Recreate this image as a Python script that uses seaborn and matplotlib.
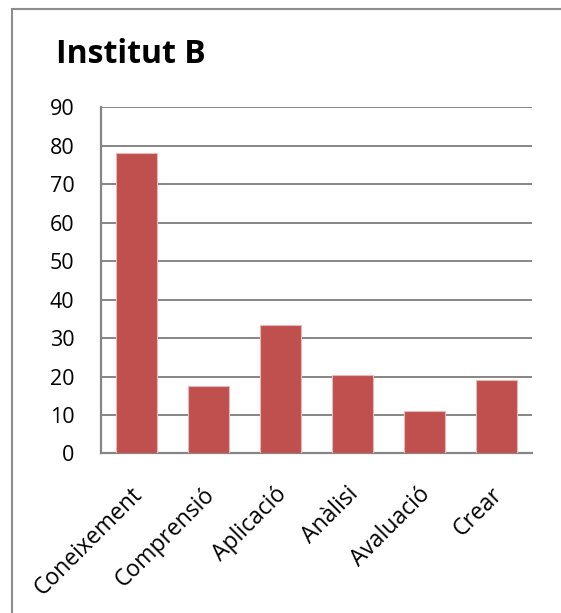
import matplotlib
matplotlib.use("Agg")
import matplotlib.pyplot as plt
import matplotlib.transforms as mtransforms
import seaborn as sns
import pandas as pd
from matplotlib.patches import Rectangle

# data
categories = ['Coneixement', 'Comprensió', 'Aplicació', 'Anàlisi', 'Avaluació', 'Crear']
values = [78, 17.5, 33.3, 20.5, 11, 19]
y_ticks = list(range(0, 100, 10))

sns.set_style('white')
plt.rcParams['font.family'] = ['Open Sans', 'DejaVu Sans']
plt.rcParams['text.color'] = 'black'
plt.rcParams['xtick.color'] = 'black'
plt.rcParams['ytick.color'] = 'black'

df = pd.DataFrame({'categoria': categories, 'valor': values})

fig = plt.figure(figsize=(5.61, 6.13), dpi=100)
ax = fig.add_axes([0.1795, 0.2602, 0.7688, 0.5652])

# outer chart border (only top/left visible, rest is cut off)
fig.patches.append(Rectangle((12 / 561, -0.05), 1.2, 1 - 9 / 613 + 0.05,
                             transform=fig.transFigure, fill=False,
                             edgecolor='#8c8c8c', linewidth=1.5))

sns.barplot(data=df, x='categoria', y='valor', color='#C0504D', width=0.57,
            saturation=1, edgecolor='#E8B8B7', linewidth=0.8, ax=ax, zorder=3)

ax.set_ylim(0, 90)
ax.set_xlim(-0.5, 5.5)
ax.set_yticks(y_ticks)
ax.yaxis.grid(True, color='#868686', linewidth=1.4, zorder=0)
ax.set_axisbelow(True)

for side in ['top', 'right']:
    ax.spines[side].set_visible(False)
for side in ['left', 'bottom']:
    ax.spines[side].set_color('#868686')
    ax.spines[side].set_linewidth(1.6)

ax.tick_params(axis='y', length=0, pad=19, labelsize=15.5, labelcolor='black')
ax.tick_params(axis='x', length=0, pad=18, labelsize=16.5, labelcolor='black')
ax.set_xticks(range(len(categories)))
ax.set_xticklabels(categories, rotation=45, ha='right', va='top', rotation_mode='anchor')
ax.set_xlabel('')
ax.set_ylabel('')

# nudge rotated labels a little down-left, like the original
shift = mtransforms.ScaledTranslation(-6 / 100, -4 / 100, fig.dpi_scale_trans)
for lbl in ax.get_xticklabels():
    lbl.set_transform(lbl.get_transform() + shift)

fig.text(56 / 561, 1 - 63 / 613, 'Institut B', fontsize=23, fontweight='bold',
         ha='left', va='baseline', color='black')

fig.savefig('out.png', dpi=100)
